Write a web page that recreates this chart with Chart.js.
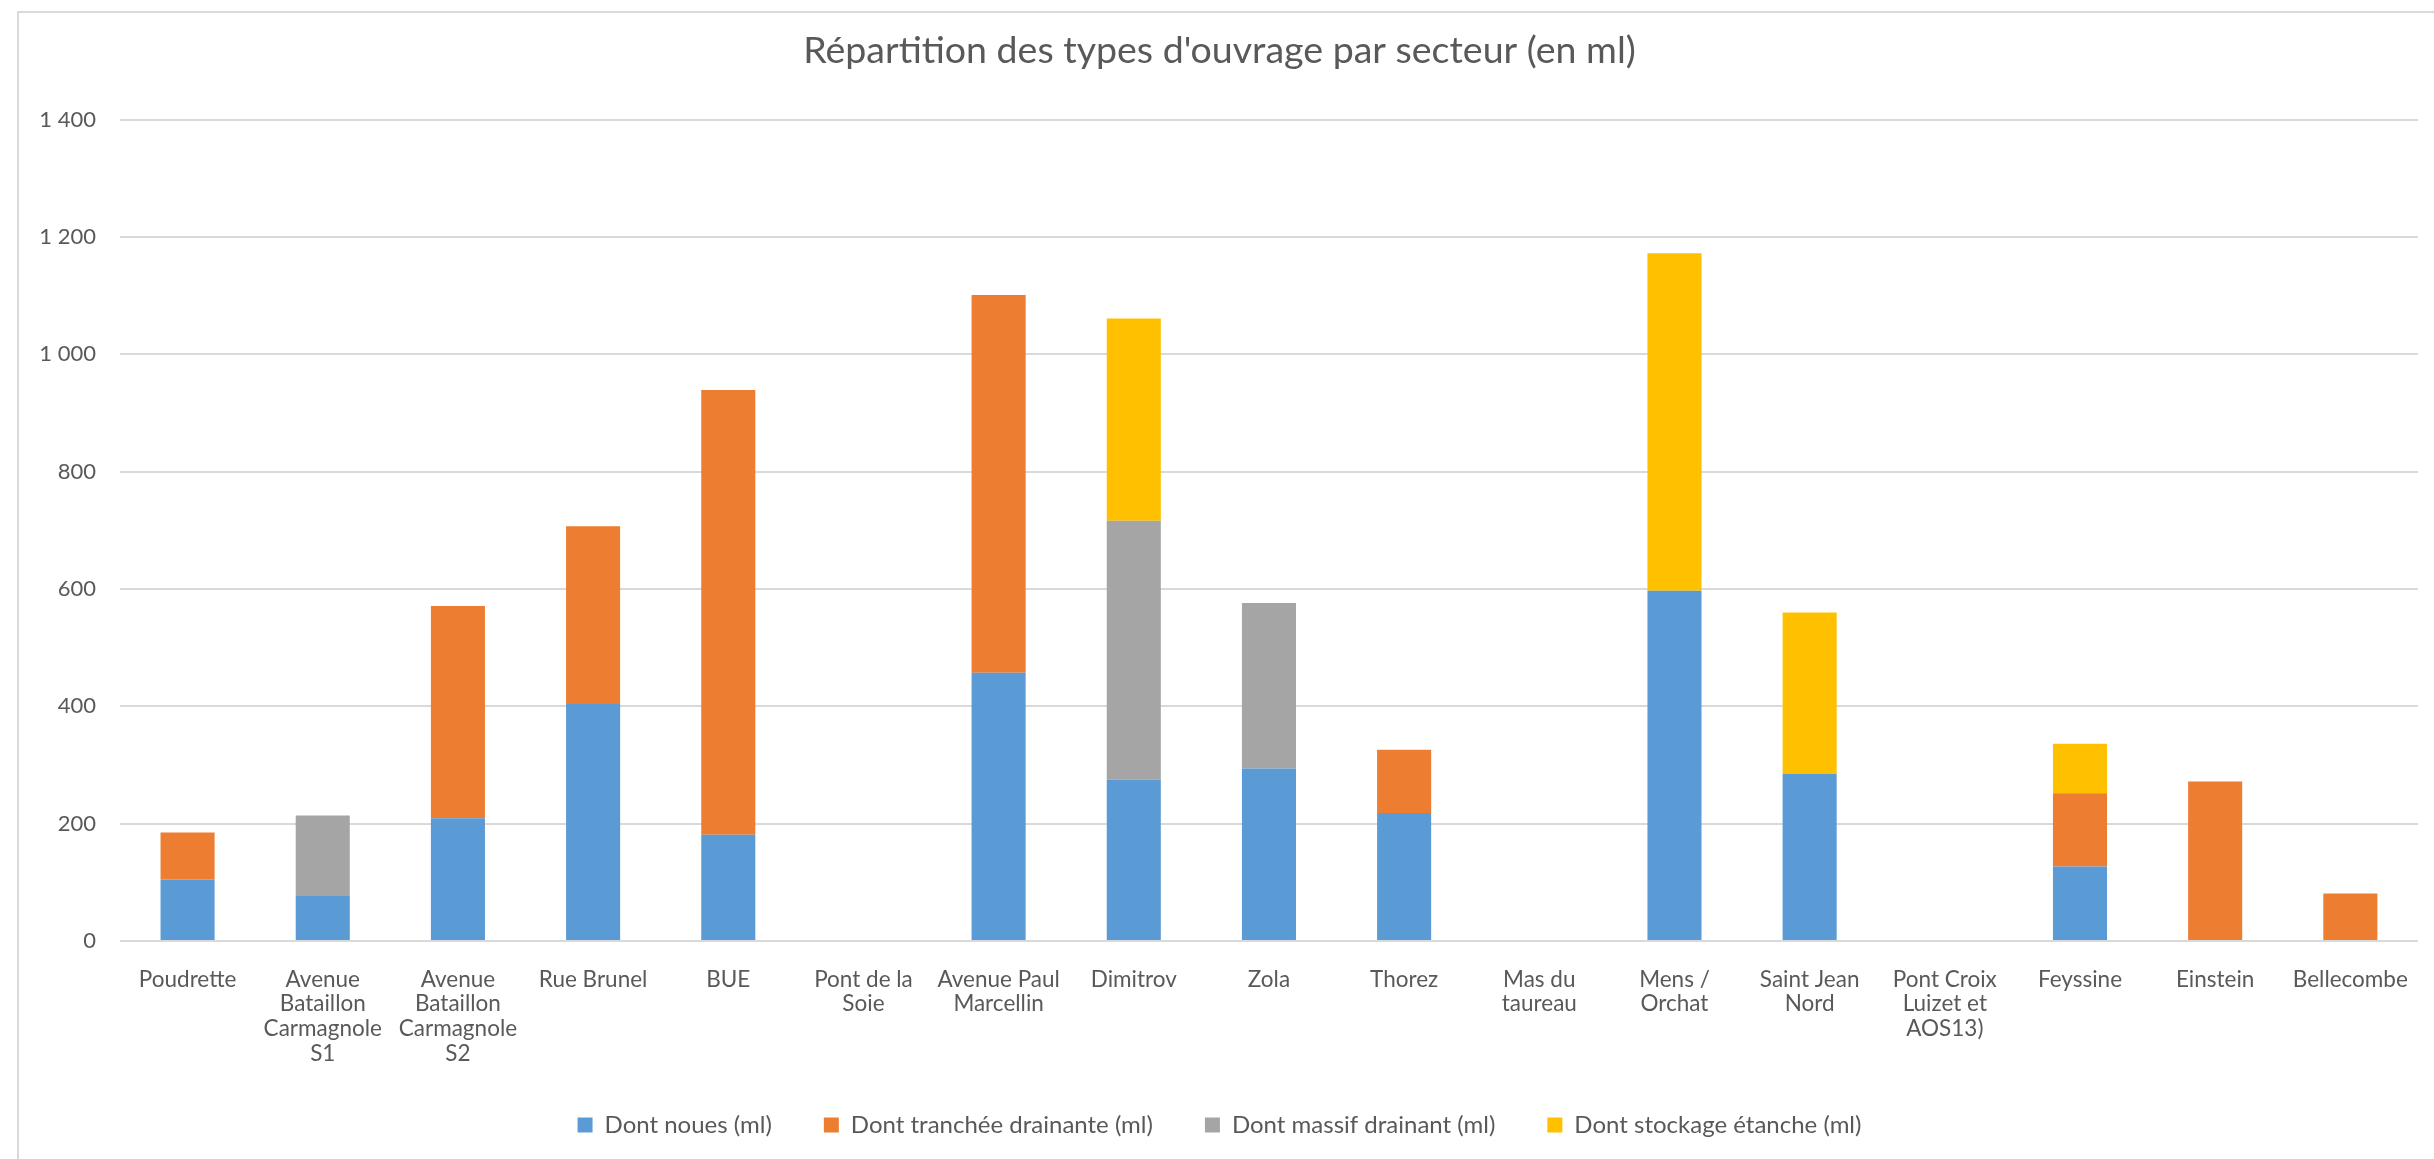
<!DOCTYPE html>
<html>
<head>
<meta charset="utf-8">
<script src="https://cdn.jsdelivr.net/npm/chart.js@4/dist/chart.umd.min.js"></script>
<style>
  html, body { margin: 0; padding: 0; background: #fff; overflow: hidden; }
  #frame {
    position: absolute; left: 17px; top: 11px; width: 2500px; height: 1300px;
    border-left: 2px solid #d9d9d9; border-top: 2px solid #d9d9d9;
  }
  #wrap { position: absolute; left: 0; top: 0; width: 2434px; height: 1147px; }
</style>
</head>
<body>
<div id="frame"></div>
<div id="wrap"><canvas id="barCanvas"></canvas></div>
<script>
const categories = [
  "Poudrette",
  ["Avenue", "Bataillon", "Carmagnole", "S1"],
  ["Avenue", "Bataillon", "Carmagnole", "S2"],
  "Rue Brunel",
  "BUE",
  ["Pont de la", "Soie"],
  ["Avenue Paul", "Marcellin"],
  "Dimitrov",
  "Zola",
  "Thorez",
  ["Mas du", "taureau"],
  ["Mens /", "Orchat"],
  ["Saint Jean", "Nord"],
  ["Pont Croix", "Luizet et", "AOS13)"],
  "Feyssine",
  "Einstein",
  "Bellecombe"
];

const noues    = [105, 78, 209, 404, 181, null, 457, 275, 294, 218, null, 597, 285, null, 127, null, null];
const tranchee = [80, null, 362, 303, 758, null, 644, null, null, 108, null, null, null, null, 125, 272, 81];
const massif   = [null, 136, null, null, null, null, null, 441, 282, null, null, null, null, null, null, null, null];
const stockage = [null, null, null, null, null, null, null, 345, null, null, null, 575, 275, null, 84, null, null];

const yTicks = [0, 200, 400, 600, 800, 1000, 1200, 1400];

const textColor = "#595959";
const fontFamily = "Lato, 'Open Sans', sans-serif";

function formatNumber(v) {
  return String(v).replace(/\B(?=(\d{3})+(?!\d))/g, " ");
}

const barCanvas = document.getElementById("barCanvas");

const barChart = new Chart(barCanvas, {
  type: "bar",
  data: {
    labels: categories,
    datasets: [
      { label: "Dont noues (ml)", data: noues, backgroundColor: "#5B9BD5" },
      { label: "Dont tranchée drainante (ml)", data: tranchee, backgroundColor: "#ED7D31" },
      { label: "Dont massif drainant (ml)", data: massif, backgroundColor: "#A5A5A5" },
      { label: "Dont stockage étanche (ml)", data: stockage, backgroundColor: "#FFC000" }
    ]
  },
  options: {
    responsive: true,
    maintainAspectRatio: false,
    animation: false,
    datasets: {
      bar: { categoryPercentage: 1, barPercentage: 0.4, borderWidth: 0 }
    },
    layout: { padding: { left: 10, right: 5, top: 0, bottom: 0 } },
    plugins: {
      title: {
        display: true,
        text: "Répartition des types d'ouvrage par secteur (en ml)",
        color: textColor,
        font: { family: fontFamily, size: 37.5, weight: "normal" },
        padding: { top: 28.5, bottom: 46 }
      },
      legend: {
        position: "bottom",
        labels: {
          color: textColor,
          font: { family: fontFamily, size: 24 },
          boxWidth: 15,
          boxHeight: 15,
          padding: 52
        }
      },
      tooltip: { enabled: false }
    },
    scales: {
      x: {
        stacked: true,
        grid: { display: false, drawTicks: false },
        border: { display: false },
        ticks: {
          color: textColor,
          font: { family: fontFamily, size: 22.5, lineHeight: 1.1 },
          padding: 26,
          maxRotation: 0,
          autoSkip: false
        },
        afterFit: (s) => { s.height = 120; }
      },
      y: {
        stacked: true,
        min: 0,
        max: 1400,
        afterBuildTicks: (s) => { s.ticks = yTicks.map(v => ({ value: v })); },
        grid: { color: "#d9d9d9", lineWidth: 2, drawTicks: false },
        border: { display: false },
        ticks: {
          color: textColor,
          font: { family: fontFamily, size: 22 },
          padding: 24,
          callback: (v) => formatNumber(v)
        },
        afterFit: (s) => { s.width = 110; }
      }
    }
  }
});
</script>
</body>
</html>
